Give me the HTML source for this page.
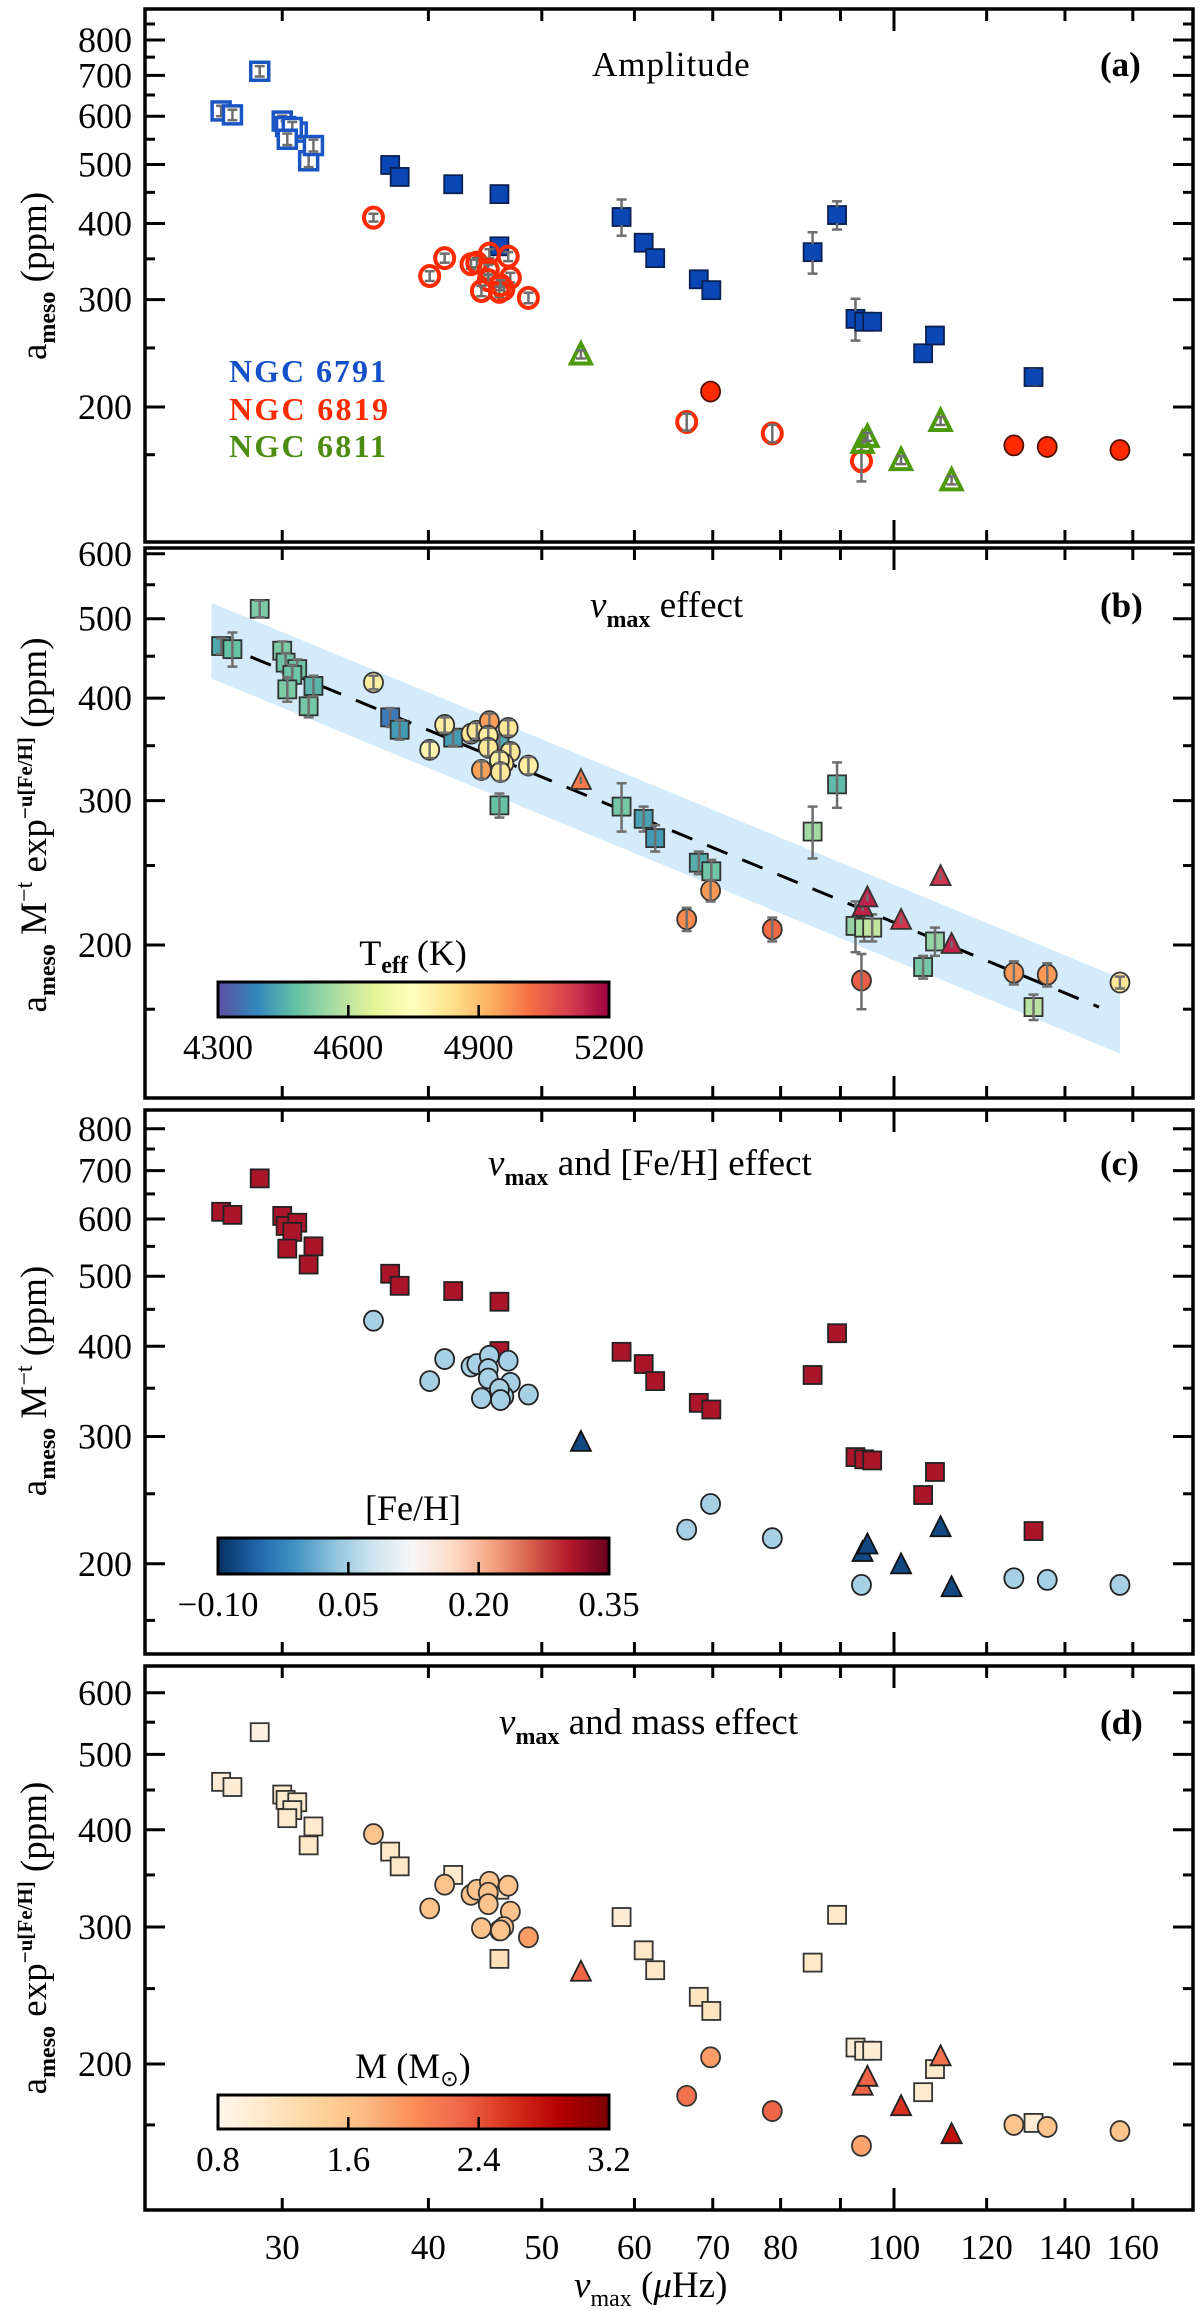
<!DOCTYPE html>
<html><head><meta charset="utf-8">
<style>
html,body{margin:0;padding:0;background:#fff;}
svg{display:block;font-family:"Liberation Serif",serif;}
</style></head>
<body>
<svg id="fig" width="1200" height="2311" viewBox="0 0 1200 2311" xmlns="http://www.w3.org/2000/svg">
<defs>
<linearGradient id="gTeff" x1="0" x2="1" y1="0" y2="0">
<stop offset="0" stop-color="#5e4fa2"/><stop offset="0.1" stop-color="#3288bd"/><stop offset="0.2" stop-color="#66c2a5"/><stop offset="0.3" stop-color="#abdda4"/><stop offset="0.4" stop-color="#e6f598"/><stop offset="0.5" stop-color="#ffffbf"/><stop offset="0.6" stop-color="#fee08b"/><stop offset="0.7" stop-color="#fdae61"/><stop offset="0.8" stop-color="#f46d43"/><stop offset="0.9" stop-color="#d53e4f"/><stop offset="1" stop-color="#9e0142"/>
</linearGradient>
<linearGradient id="gFeh" x1="0" x2="1" y1="0" y2="0">
<stop offset="0" stop-color="#053061"/><stop offset="0.1" stop-color="#2166ac"/><stop offset="0.2" stop-color="#4393c3"/><stop offset="0.3" stop-color="#92c5de"/><stop offset="0.4" stop-color="#d1e5f0"/><stop offset="0.5" stop-color="#f7f7f7"/><stop offset="0.6" stop-color="#fddbc7"/><stop offset="0.7" stop-color="#f4a582"/><stop offset="0.8" stop-color="#d6604d"/><stop offset="0.9" stop-color="#b2182b"/><stop offset="1" stop-color="#67001f"/>
</linearGradient>
<linearGradient id="gMass" x1="0" x2="1" y1="0" y2="0">
<stop offset="0" stop-color="#fff7ec"/><stop offset="0.125" stop-color="#fee8c8"/><stop offset="0.25" stop-color="#fdd49e"/><stop offset="0.375" stop-color="#fdbb84"/><stop offset="0.5" stop-color="#fc8d59"/><stop offset="0.625" stop-color="#ef6548"/><stop offset="0.75" stop-color="#d7301f"/><stop offset="0.875" stop-color="#b30000"/><stop offset="1" stop-color="#7f0000"/>
</linearGradient>
</defs>
<g id="layer"></g>
</svg>
<script>
// ---- data ----
const sqNu=[26.6,27.2,28.7,30.0,30.2,30.9,30.6,30.3,31.6,31.9,37.1,37.8,42.0,46.0,46.0,58.5,61.1,62.5,68.1,69.8,85.2,89.4,92.7,94.3,95.8,105.9,108.4,131.6];
const sqA=[612,603,711,589,577,565,575,550,507,537,499,477,464,447,367,410,372,351,324,311,359,413,279,276,276,245,262,224];
const sqAerr=[12,12,14,12,12,12,12,12,12,12,6,6,6,6,6,28,6,6,6,6,28,22,22,6,6,6,6,6];
const sqB=[463,459,514,457,442,434,427,410,391,414,379,366,358,352,296,295,285,270,252,246,275,314,211,210,210,188,202,168];
const sqBerr=[10,22,12,12,12,12,12,14,12,12,10,10,8,8,10,20,10,10,8,8,20,20,15,8,8,6,8,6];
const sqC=[614,608,683,606,587,593,576,546,519,550,504,485,477,461,394,393,378,358,334,327,365,417,281,279,278,249,268,222];
const sqD=[461,454,534,444,437,434,424,414,382,404,375,359,350,335,273,309,280,264,244,234,270,311,210,208,208,184,197,168];
const sqTeff=[4440,4480,4510,4510,4490,4490,4490,4510,4500,4460,4370,4420,4420,4440,4480,4500,4430,4420,4450,4490,4560,4470,4540,4570,4600,4500,4540,4590];
const sqFeh=[0.31,0.31,0.31,0.31,0.31,0.31,0.31,0.31,0.31,0.31,0.31,0.31,0.31,0.31,0.31,0.31,0.31,0.31,0.31,0.31,0.31,0.31,0.31,0.31,0.31,0.31,0.31,0.31];
const sqMass=[1.0,1.0,0.9,1.05,1.05,1.05,1.05,1.05,1.1,1.05,1.1,1.1,1.05,1.15,1.2,1.0,1.1,1.1,1.15,1.15,1.1,1.1,1.0,1.0,1.0,1.05,1.05,1.0];
const circNu=[35.9,40.1,41.3,43.5,44.0,45.1,45.0,45.0,46.8,47.0,46.4,46.0,44.4,46.1,48.7,66.5,69.7,78.7,93.8,126.6,135.2,156.0];
const circA=[409,328,351,343,345,357,336,323,353,326,312,309,310,317,302,189,212,181,163,173,172,170];
const circAopen=[1,1,1,1,1,1,1,1,1,1,1,1,1,1,1,1,0,1,1,0,0,0];
const circAerr=[6,6,6,6,6,6,6,6,6,6,6,6,6,6,6,6,6,6,12,6,6,6];
const circB=[418,346,371,362,365,375,360,348,368,344,333,336,327,325,331,215,233,209,181,185,184,180];
const circBerr=[8,8,8,8,8,8,8,8,8,8,8,8,8,8,8,7,7,7,14,6,6,3];
const circC=[434,358,384,375,378,388,372,361,382,356,341,349,339,337,343,223,242,217,187,191,190,187];
const circD=[395,317,340,330,335,343,332,321,339,314,300,297,299,297,291,182,204,174,157,167,166,164];
const circTeff=[4800,4780,4800,4820,4820,4950,4800,4820,4820,4820,4820,4800,4950,4820,4800,4980,4960,5030,5050,4960,4960,4820];
const circFeh=[0.05,0.05,0.05,0.05,0.05,0.05,0.05,0.05,0.05,0.05,0.05,0.05,0.05,0.05,0.05,0.05,0.05,0.05,0.05,0.05,0.05,0.05];
const circMass=[1.6,1.6,1.6,1.6,1.6,1.6,1.6,1.6,1.6,1.6,1.6,1.6,1.6,1.6,1.9,2.2,1.9,2.3,1.85,1.6,1.6,1.6];
const triNu=[54.0,94.0,94.9,101.4,109.6,112.0];
const triA=[243,174,178,163,189,151];
const triB=[317,222,228,214,242,200];
const triC=[294,207,212,199,224,185];
const triD=[262,187,192,176,204,162];
const triTeff=[5000,5150,5150,5120,5120,5150];
const triFeh=[-0.08,-0.08,-0.08,-0.08,-0.08,-0.08];
const triMass=[2.3,2.3,2.3,2.6,2.2,2.8];
const fitNu=[26.3,149.7];
const fitAmp=[468,168];
const bandNu=[26.1,156];
const bandFactor=1.112;
const xTickMajor=[100];
const xTickMinor=[30,40,50,60,70,80,90,120,140,160];
const xTickLabels=[30,40,50,60,70,80,100,120,140,160];
const yMinor=[167,250,350,450,550,650,750,850];
const teffTicks=[4300,4600,4900,5200];
const fehTicks=["\u22120.10","0.05","0.20","0.35"];
const massTicks=["0.8","1.6","2.4","3.2"];

// ---- helpers ----
const NS="http://www.w3.org/2000/svg";
const layer=document.getElementById('layer');
function mk(tag,attrs,parent){const e=document.createElementNS(NS,tag);for(const k in attrs)e.setAttribute(k,attrs[k]);(parent||layer).appendChild(e);return e;}
const L=145,R=1193;
function xs(nu){return 894+1170*Math.log10(nu/100);}
const panels={
 a:{top:9,bot:542,y200:407,k:609.5,majors:[200,300,400,500,600,700,800]},
 b:{top:548,bot:1098,y200:945,k:820,majors:[200,300,400,500,600]},
 c:{top:1110,bot:1654,y200:1563.8,k:722.6,majors:[200,300,400,500,600,700,800]},
 d:{top:1666,bot:2210,y200:2064,k:778,majors:[200,300,400,500,600]}
};
function ys(p,v){return p.y200-p.k*Math.log10(v/200);}
function lerpHex(stops,t){t=Math.max(0,Math.min(1,t));const n=stops.length-1;const i=Math.min(n-1,Math.floor(t*n));const f=t*n-i;
 const a=parseInt(stops[i].slice(1),16),b=parseInt(stops[i+1].slice(1),16);
 const c=[16,8,0].map(s=>Math.round(((a>>s)&255)*(1-f)+((b>>s)&255)*f));return 'rgb('+c.join(',')+')';}
const spectral=["#5e4fa2","#3288bd","#66c2a5","#abdda4","#e6f598","#ffffbf","#fee08b","#fdae61","#f46d43","#d53e4f","#9e0142"];
const rdbu=["#053061","#2166ac","#4393c3","#92c5de","#d1e5f0","#f7f7f7","#fddbc7","#f4a582","#d6604d","#b2182b","#67001f"];
const orrd=["#fff7ec","#fee8c8","#fdd49e","#fdbb84","#fc8d59","#ef6548","#d7301f","#b30000","#7f0000"];
const cTeff=v=>lerpHex(spectral,(v-4300)/900);
const cFeh=v=>lerpHex(rdbu,(v+0.10)/0.45);
const cMass=v=>lerpHex(orrd,(v-0.8)/2.4);

function axes(key,p){
 const g=mk('g',{});
 
 
 mk('rect',{x:L,y:p.top,width:R-L,height:p.bot-p.top,fill:'none',stroke:'#000','stroke-width':3.5},g);
 xTickMajor.forEach(v=>{const x=xs(v);mk('line',{x1:x,x2:x,y1:p.bot,y2:p.bot-22,stroke:'#000','stroke-width':3},g);mk('line',{x1:x,x2:x,y1:p.top,y2:p.top+22,stroke:'#000','stroke-width':3},g);});
 xTickMinor.forEach(v=>{const x=xs(v);mk('line',{x1:x,x2:x,y1:p.bot,y2:p.bot-12,stroke:'#000','stroke-width':3},g);mk('line',{x1:x,x2:x,y1:p.top,y2:p.top+12,stroke:'#000','stroke-width':3},g);});
 p.majors.forEach(v=>{const y=ys(p,v);mk('line',{x1:L,x2:L+20,y1:y,y2:y,stroke:'#000','stroke-width':3},g);mk('line',{x1:R,x2:R-20,y1:y,y2:y,stroke:'#000','stroke-width':3},g);
  const t=mk('text',{x:L-13,y:y+12,'text-anchor':'end','font-size':36},g);t.textContent=v;
  
  });
 yMinor.forEach(v=>{const y=ys(p,v);if(y<p.top+3||y>p.bot-3)return;mk('line',{x1:L,x2:L+10,y1:y,y2:y,stroke:'#000','stroke-width':3},g);mk('line',{x1:R,x2:R-10,y1:y,y2:y,stroke:'#000','stroke-width':3},g);});
}
function errbar(x,y1,y2){mk('line',{x1:x,x2:x,y1:y1,y2:y2,stroke:'#6e6e6e','stroke-width':2.5});mk('line',{x1:x-5,x2:x+5,y1:y1,y2:y1,stroke:'#6e6e6e','stroke-width':2.5});mk('line',{x1:x-5,x2:x+5,y1:y2,y2:y2,stroke:'#6e6e6e','stroke-width':2.5});}
function square(x,y,fill,stroke,sw,name){const e=mk('rect',{x:x-9,y:y-9,width:18,height:18,fill:fill,stroke:stroke,'stroke-width':sw});
 
 return e;}
function circle(x,y,fill,stroke,sw,name){const e=mk('ellipse',{cx:x,cy:y,rx:9.5,ry:10,fill:fill,stroke:stroke,'stroke-width':sw});
 
 return e;}
function tri(x,y,fill,stroke,sw,name){const e=mk('polygon',{points:(x-10)+','+(y+8)+' '+(x+10)+','+(y+8)+' '+x+','+(y-12),fill:fill,stroke:stroke,'stroke-width':sw,'stroke-linejoin':'miter'});
 
 return e;}
function txt(x,y,s,attrs,name){const t=mk('text',Object.assign({x:x,y:y},attrs));t.innerHTML=s;
 
 return t;}

// ---- panel a ----
const pa=panels.a;
axes('a',pa);
sqNu.forEach((n,i)=>{const x=xs(n),y=ys(pa,sqA[i]);const open=i<10;
 if(open){square(x,y,'#fff','#1a55c4',3.5,'ngc6791-point');}else{square(x,y,'#0a46b4','#0a1e50',1.8,'ngc6791-point');}
 errbar(x,ys(pa,sqA[i]+sqAerr[i]),ys(pa,sqA[i]-sqAerr[i]));
 if(!open){mk('rect',{x:x-8,y:y-8,width:16,height:16,fill:'#0a46b4'});}});
circNu.forEach((n,i)=>{const x=xs(n),y=ys(pa,circA[i]);
 if(circAopen[i]){circle(x,y,'none','#ff2a00',4,'ngc6819-point');errbar(x,ys(pa,circA[i]+circAerr[i]),ys(pa,circA[i]-circAerr[i]));}
 else circle(x,y,'#ff2a00','#501000',1.8,'ngc6819-point');});
triNu.forEach((n,i)=>{const x=xs(n),y=ys(pa,triA[i]);tri(x,y,'none','#4c9a0a',4,'ngc6811-point');errbar(x,y-5,y+3);});
txt(592,76,'Amplitude',{'font-size':35,'letter-spacing':1},'panel-a-title');
txt(1100,76,'(a)',{'font-size':35,'font-weight':'bold'},'panel-a-label');
txt(229,382,'NGC 6791',{'font-size':32,'font-weight':'bold',fill:'#1450c8',textLength:157},'legend-ngc6791');
txt(229,420,'NGC 6819',{'font-size':32,'font-weight':'bold',fill:'#ff2a00',textLength:159},'legend-ngc6819');
txt(229,457,'NGC 6811',{'font-size':32,'font-weight':'bold',fill:'#4c8c10',textLength:157},'legend-ngc6811');

// ---- panel b ----
const pb=panels.b;
(function(){const sl=Math.log10(fitAmp[1]/fitAmp[0])/Math.log10(fitNu[1]/fitNu[0]);
 const f=nu=>fitAmp[0]*Math.pow(nu/fitNu[0],sl);
 const x1=xs(bandNu[0]),x2=xs(bandNu[1]);
 const poly=[[x1,ys(pb,f(bandNu[0])*bandFactor)],[x2,ys(pb,f(bandNu[1])*bandFactor)],[x2,ys(pb,f(bandNu[1])/bandFactor)],[x1,ys(pb,f(bandNu[0])/bandFactor)]];
 const band=mk('polygon',{points:poly.map(p=>p.join(',')).join(' '),fill:'#d3ebfb'});
 
 
 const ln=mk('line',{x1:xs(fitNu[0]),y1:ys(pb,fitAmp[0]),x2:xs(fitNu[1]),y2:ys(pb,fitAmp[1]),stroke:'#000','stroke-width':3,'stroke-dasharray':'22,16'});
 
 
})();
axes('b',pb);
sqNu.forEach((n,i)=>{const x=xs(n),y=ys(pb,sqB[i]);square(x,y,cTeff(sqTeff[i]),'#333',1.8,'teff-square');errbar(x,ys(pb,sqB[i]+sqBerr[i]),ys(pb,sqB[i]-sqBerr[i]));});
circNu.forEach((n,i)=>{const x=xs(n),y=ys(pb,circB[i]);circle(x,y,cTeff(circTeff[i]),'#333',1.8,'teff-circle');errbar(x,ys(pb,circB[i]+circBerr[i]),ys(pb,circB[i]-circBerr[i]));});
triNu.forEach((n,i)=>{const x=xs(n),y=ys(pb,triB[i]);tri(x,y,cTeff(triTeff[i]),'#333',1.8,'teff-triangle');mk('line',{x1:x,x2:x,y1:y-4,y2:y+3,stroke:'#6e6e6e','stroke-width':2.5});});
txt(590,617,'<tspan font-style="italic">ν</tspan><tspan font-size="24" font-weight="bold" dy="10">max</tspan><tspan dy="-10"> effect</tspan>',{'font-size':37},'panel-b-title');
txt(1100,617,'(b)',{'font-size':35,'font-weight':'bold'},'panel-b-label');

// ---- panel c ----
const pc=panels.c;
axes('c',pc);
sqNu.forEach((n,i)=>{square(xs(n),ys(pc,sqC[i]),cFeh(sqFeh[i]),'#222',1.8,'feh-square');});
circNu.forEach((n,i)=>{circle(xs(n),ys(pc,circC[i]),cFeh(circFeh[i]),'#222',1.8,'feh-circle');});
triNu.forEach((n,i)=>{tri(xs(n),ys(pc,triC[i]),cFeh(triFeh[i]),'#111',1.8,'feh-triangle');});
txt(488,1175,'<tspan font-style="italic">ν</tspan><tspan font-size="24" font-weight="bold" dy="10">max</tspan><tspan dy="-10"> and [Fe/H] effect</tspan>',{'font-size':37},'panel-c-title');
txt(1100,1175,'(c)',{'font-size':35,'font-weight':'bold'},'panel-c-label');

// ---- panel d ----
const pd=panels.d;
axes('d',pd);
sqNu.forEach((n,i)=>{square(xs(n),ys(pd,sqD[i]),cMass(sqMass[i]),'#333',1.8,'mass-square');});
circNu.forEach((n,i)=>{circle(xs(n),ys(pd,circD[i]),cMass(circMass[i]),'#333',1.8,'mass-circle');});
triNu.forEach((n,i)=>{tri(xs(n),ys(pd,triD[i]),cMass(triMass[i]),'#222',1.8,'mass-triangle');});
txt(499,1734,'<tspan font-style="italic">ν</tspan><tspan font-size="24" font-weight="bold" dy="10">max</tspan><tspan dy="-10"> and mass effect</tspan>',{'font-size':37},'panel-d-title');
txt(1100,1734,'(d)',{'font-size':35,'font-weight':'bold'},'panel-d-label');

// ---- colorbars ----
function cbar(grad,y0,y1,titleHtml,titleY,labels,labY,name){
 const r=mk('rect',{x:218,y:y0,width:391,height:y1-y0,fill:'url(#'+grad+')',stroke:'#000','stroke-width':3});
 
 
 [1,2].forEach(k=>{const x=218+391*k/3;mk('line',{x1:x,x2:x,y1:y1,y2:y1-12,stroke:'#000','stroke-width':2.5});});
 labels.forEach((s,k)=>{txt(218+391*k/(labels.length-1),labY,s,{'font-size':35,'text-anchor':'middle'},name+'-tick-label');});
 txt(413,titleY,titleHtml,{'font-size':36,'text-anchor':'middle'},name+'-title');
}
cbar('gTeff',982,1017,'T<tspan font-size="24" font-weight="bold" dy="8">eff</tspan><tspan dy="-8"> (K)</tspan>',965,teffTicks.map(String),1059,'teff-colorbar');
cbar('gFeh',1538,1574,'[Fe/H]',1520,fehTicks,1616,'feh-colorbar');
cbar('gMass',2095,2129,'M (M<tspan font-size="22" dy="8">⊙</tspan><tspan dy="-8">)</tspan>',2078,massTicks,2171,'mass-colorbar');

// ---- x axis labels ----
xTickLabels.forEach(v=>{txt(xs(v),2259,String(v),{'font-size':35,'text-anchor':'middle'},'x-tick-label');});
txt(574,2297,'<tspan font-style="italic">ν</tspan><tspan font-size="24" dy="9">max</tspan><tspan dy="-9"> (</tspan><tspan font-style="italic">μ</tspan>Hz)',{'font-size':37},'x-axis-title');

// ---- y axis titles ----
function ytitle(cy,html,name){const t=txt(0,0,html,{'font-size':37,'text-anchor':'middle',transform:'translate(46,'+cy+') rotate(-90)'},name);}
ytitle(276,'a<tspan font-size="24" font-weight="bold" dy="9">meso</tspan><tspan dy="-9"> (ppm)</tspan>','panel-a-y-title');
ytitle(825,'a<tspan font-size="24" font-weight="bold" dy="9">meso</tspan><tspan dy="-9"> M</tspan><tspan font-size="24" dy="-14">−t</tspan><tspan dy="14"> exp</tspan><tspan font-size="21" font-weight="bold" dy="-14">−u[Fe/H]</tspan><tspan dy="14"> (ppm)</tspan>','panel-b-y-title');
ytitle(1381,'a<tspan font-size="24" font-weight="bold" dy="9">meso</tspan><tspan dy="-9"> M</tspan><tspan font-size="24" dy="-14">−t</tspan><tspan dy="14"> (ppm)</tspan>','panel-c-y-title');
ytitle(1938,'a<tspan font-size="24" font-weight="bold" dy="9">meso</tspan><tspan dy="-9"> exp</tspan><tspan font-size="21" font-weight="bold" dy="-14">−u[Fe/H]</tspan><tspan dy="14"> (ppm)</tspan>','panel-d-y-title');
</script>
</body></html>
